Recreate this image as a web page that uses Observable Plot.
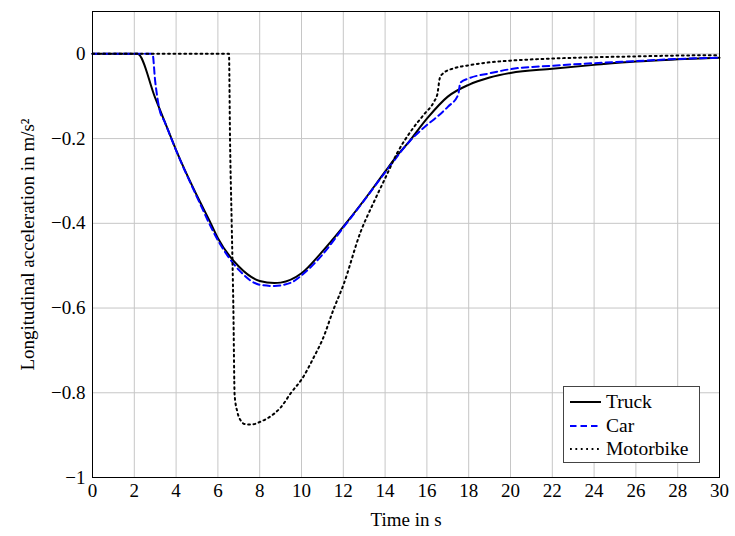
<!DOCTYPE html>
<html>
<head>
<meta charset="utf-8">
<script src="https://cdn.jsdelivr.net/npm/d3@7"></script>
<script src="https://cdn.jsdelivr.net/npm/@observablehq/plot@0.6"></script>
<style>
  html, body { margin: 0; padding: 0; background: white; }
  #wrap { position: relative; width: 735px; height: 536px; font-family: "Liberation Serif", serif; }
  #legend { position: absolute; left: 563px; top: 386px; width: 137px; height: 77px; border: 1px solid #444; background: white; box-sizing: border-box; font-size: 19.5px; }
  .row { position: absolute; left: 6px; height: 22px; display: flex; align-items: center; }
  .row svg { margin-right: 5px; }
</style>
</head>
<body>
<div id="wrap"></div>
<script>
// Time (s) and longitudinal acceleration (m/s^2)
const truckT = [0, 2.15, 3.0, 3.78, 4, 5, 5.66, 6, 7, 8, 8.7, 9, 10, 10.92, 12, 13, 14, 14.5, 15.15, 16, 17, 18, 19, 20, 22, 24, 26, 28, 30];
const truckA = [0, 0, -0.104, -0.2, -0.227, -0.335, -0.4, -0.435, -0.502, -0.536, -0.541, -0.54, -0.518, -0.471, -0.408, -0.345, -0.278, -0.245, -0.207, -0.153, -0.101, -0.073, -0.056, -0.045, -0.035, -0.026, -0.018, -0.013, -0.009];

const carT = [0, 2.87, 3.0, 3.2, 3.45, 4, 5, 6, 7, 8, 8.7, 9.5, 10, 11, 12, 13, 14, 15.2, 16, 16.5, 17, 17.5, 17.6, 18, 19, 20, 22, 24, 26, 28, 30];
const carA = [0, 0, -0.065, -0.13, -0.16, -0.228, -0.338, -0.44, -0.51, -0.545, -0.548, -0.54, -0.523, -0.474, -0.41, -0.346, -0.28, -0.205, -0.168, -0.148, -0.125, -0.096, -0.068, -0.058, -0.046, -0.036, -0.028, -0.022, -0.017, -0.012, -0.009];

const motoT = [0, 6.53, 6.58, 6.66, 6.74, 6.8, 6.93, 7.1, 7.3, 7.6, 8.05, 8.7, 9.0, 9.5, 10.04, 10.6, 11.0, 11.55, 12, 12.83, 13.47, 14, 14.59, 15.3, 15.86, 16.35, 16.5, 16.62, 16.8, 17.3, 18, 19, 20, 22, 24, 26, 28, 30];
const motoA = [0, 0, -0.2, -0.4, -0.6, -0.805, -0.845, -0.866, -0.874, -0.875, -0.868, -0.849, -0.835, -0.8, -0.766, -0.715, -0.675, -0.601, -0.546, -0.42, -0.349, -0.294, -0.233, -0.178, -0.143, -0.112, -0.095, -0.057, -0.045, -0.034, -0.027, -0.02, -0.016, -0.011, -0.008, -0.006, -0.004, -0.003];

const seriesNames = ["Truck", "Car", "Motorbike"];
const xTicks = [0, 2, 4, 6, 8, 10, 12, 14, 16, 18, 20, 22, 24, 26, 28, 30];
const yTicks = [0, -0.2, -0.4, -0.6, -0.8, -1];

const toRows = (ts, as) => ts.map((t, i) => ({t, a: as[i]}));
const truck = toRows(truckT, truckA);
const car = toRows(carT, carA);
const moto = toRows(motoT, motoA);

const fmtY = d => d === 0 ? "0" : "\u2212" + String(Math.abs(d));

const chart = Plot.plot({
  width: 735,
  height: 536,
  marginLeft: 92,
  marginRight: 16,
  marginTop: 11,
  marginBottom: 59,
  x: {domain: [0, 30]},
  y: {domain: [-1, 0.1]},
  style: {fontFamily: "'Liberation Serif', serif", fontSize: "19px", color: "black", background: "white", overflow: "visible"},
  marks: [
    Plot.gridX(xTicks, {stroke: "#c6c6c6", strokeOpacity: 1, strokeWidth: 1}),
    Plot.gridY(yTicks, {stroke: "#c6c6c6", strokeOpacity: 1, strokeWidth: 1}),
    Plot.axisX(xTicks, {tickSize: 0, tickPadding: 6, tickFormat: d => String(d), label: "Time in s", labelAnchor: "center", labelOffset: 48, labelArrow: "none", fontSize: 19}),
    Plot.axisY(yTicks, {tickSize: 0, tickPadding: 7, tickFormat: fmtY, label: "Longitudinal acceleration in m/s\u00b2", labelAnchor: "center", labelOffset: 72, labelArrow: "none", fontSize: 19}),
    Plot.line(truck, {x: "t", y: "a", stroke: "black", strokeWidth: 2, curve: "monotone-x"}),
    Plot.line(car, {x: "t", y: "a", stroke: "#0000ff", strokeWidth: 2, strokeDasharray: "6.5,4", curve: "monotone-x"}),
    Plot.line(moto, {x: "t", y: "a", stroke: "black", strokeWidth: 2, strokeDasharray: "1.8,3.6", curve: "monotone-x"}),
    Plot.frame({stroke: "black", strokeWidth: 1})
  ]
});

d3.select(chart).selectAll("text").attr("font-size", 19);

const wrap = document.getElementById("wrap");
wrap.appendChild(chart);

const styles = [
  {stroke: "black", dash: null},
  {stroke: "#0000ff", dash: "6.5,4"},
  {stroke: "black", dash: "1.8,3.6"}
];
const legend = document.createElement("div");
legend.id = "legend";
seriesNames.forEach((name, i) => {
  const row = document.createElement("div");
  row.className = "row";
  row.style.top = (4 + i * 23.5) + "px";
  const s = styles[i];
  row.innerHTML = `<svg width="31" height="10"><line x1="0" y1="5" x2="31" y2="5" stroke="${s.stroke}" stroke-width="2" ${s.dash ? `stroke-dasharray="${s.dash}"` : ""}/></svg><span>${name}</span>`;
  legend.appendChild(row);
});
wrap.appendChild(legend);
</script>
</body>
</html>
